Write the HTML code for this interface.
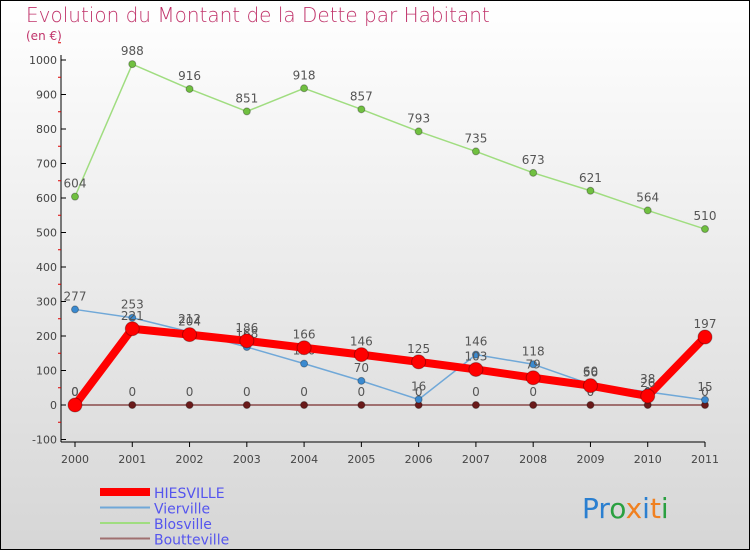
<!DOCTYPE html>
<html><head><meta charset="utf-8"><style>
body{margin:0;}
#wrap{width:750px;height:550px;position:relative;box-sizing:border-box;border:1px solid #000;background:linear-gradient(#fff,#d6d6d6);font-family:"DejaVu Sans","Liberation Sans",sans-serif;overflow:hidden}
</style></head><body>
<div id="wrap">
<svg id="chart" width="750" height="550" style="position:absolute;left:-1px;top:-1px">
<text x="26" y="22" font-size="20" fill="#c0336a" font-family="DejaVu Sans, sans-serif" font-weight="200" style="font-weight:lighter">Evolution du Montant de la Dette par Habitant</text>
<text x="26" y="40" font-size="12" fill="#c0336a">(en €)</text>
<g id="axes"></g><g id="series"></g><g id="legend"></g>
<text x="582" y="518" font-size="28" font-family="DejaVu Sans, sans-serif"><tspan fill="#2a7fd0">Pr</tspan><tspan fill="#2aa040">o</tspan><tspan fill="#f08020">x</tspan><tspan fill="#2a7fd0">i</tspan><tspan fill="#f08020">t</tspan><tspan fill="#2aa040">i</tspan></text>
</svg>
</div>
<script>
const years=["2000","2001","2002","2003","2004","2005","2006","2007","2008","2009","2010","2011"];
const yTicks=[-100,0,100,200,300,400,500,600,700,800,900,1000];
const hiesville=[0,221,204,186,166,146,125,103,79,56,26,197];
const vierville=[277,253,212,168,120,70,16,146,118,60,38,15];
const blosville=[604,988,916,851,918,857,793,735,673,621,564,510];
const boutteville=[0,0,0,0,0,0,0,0,0,0,0,0];
const NS="http://www.w3.org/2000/svg";
const X=i=>75+i*(630/11);
const Y=v=>405-v*0.345;
function mk(tag,attrs,parent,txt){const e=document.createElementNS(NS,tag);for(const k in attrs)e.setAttribute(k,attrs[k]);if(txt!==undefined)e.textContent=txt;parent.appendChild(e);return e;}
const axes=document.getElementById('axes');
let e=mk('line',{x1:61,y1:55,x2:61,y2:442,stroke:'#000'},axes);

e=mk('line',{x1:61,y1:442,x2:705,y2:442,stroke:'#000'},axes);

yTicks.forEach(t=>{
 mk('line',{x1:61,y1:Y(t),x2:66,y2:Y(t),stroke:'#000'},axes);
 mk('line',{x1:58,y1:Y(t+50),x2:61,y2:Y(t+50),stroke:'#d00'},axes);
 const l=mk('text',{x:57,y:Y(t)+4,'font-size':11,'text-anchor':'end',fill:'#444'},axes,String(t));
 
});
years.forEach((y,i)=>{
 mk('line',{x1:X(i),y1:442,x2:X(i),y2:447,stroke:'#000'},axes);
 const l=mk('text',{x:X(i),y:463,'font-size':11,'text-anchor':'middle',fill:'#444'},axes,y);
 
});
const ser=document.getElementById('series');
function draw(name,data,color,w,r,fill){
 const g=mk('g',{},ser);
 
 mk('polyline',{points:data.map((v,i)=>X(i)+','+Y(v)).join(' '),fill:'none',stroke:color,'stroke-width':w,'stroke-linejoin':'round'},g);
 data.forEach((v,i)=>{
  const c=mk('circle',{cx:X(i),cy:Y(v),r:r,fill:fill,stroke:'rgba(0,0,0,0.3)'},g);
  
  const t=mk('text',{x:X(i),y:Y(v)-9,'font-size':12,'text-anchor':'middle',fill:'#555'},g,String(v));
  
 });
}
draw('boutteville',boutteville,'#a07070',2,3.5,'#6a1a1a');
draw('blosville',blosville,'#a0dd80',1.5,3.5,'#70c040');
draw('vierville',vierville,'#70a8d8',1.5,3.5,'#3a8ad0');
draw('hiesville',hiesville,'#f00',8,7,'#f00');
const lg=document.getElementById('legend');
[['HIESVILLE','#f00',8],['Vierville','#70a8d8',2],['Blosville','#a0dd80',2],['Boutteville','#a07070',2]].forEach((d,i)=>{
 const g=mk('g',{},lg);
 
 const y=492+i*15.5;
 mk('line',{x1:100,y1:y,x2:150,y2:y,stroke:d[1],'stroke-width':d[2]},g);
 mk('text',{x:154,y:y+6,'font-size':14,fill:'#5555ee'},g,d[0]);
});
</script>
</body></html>
